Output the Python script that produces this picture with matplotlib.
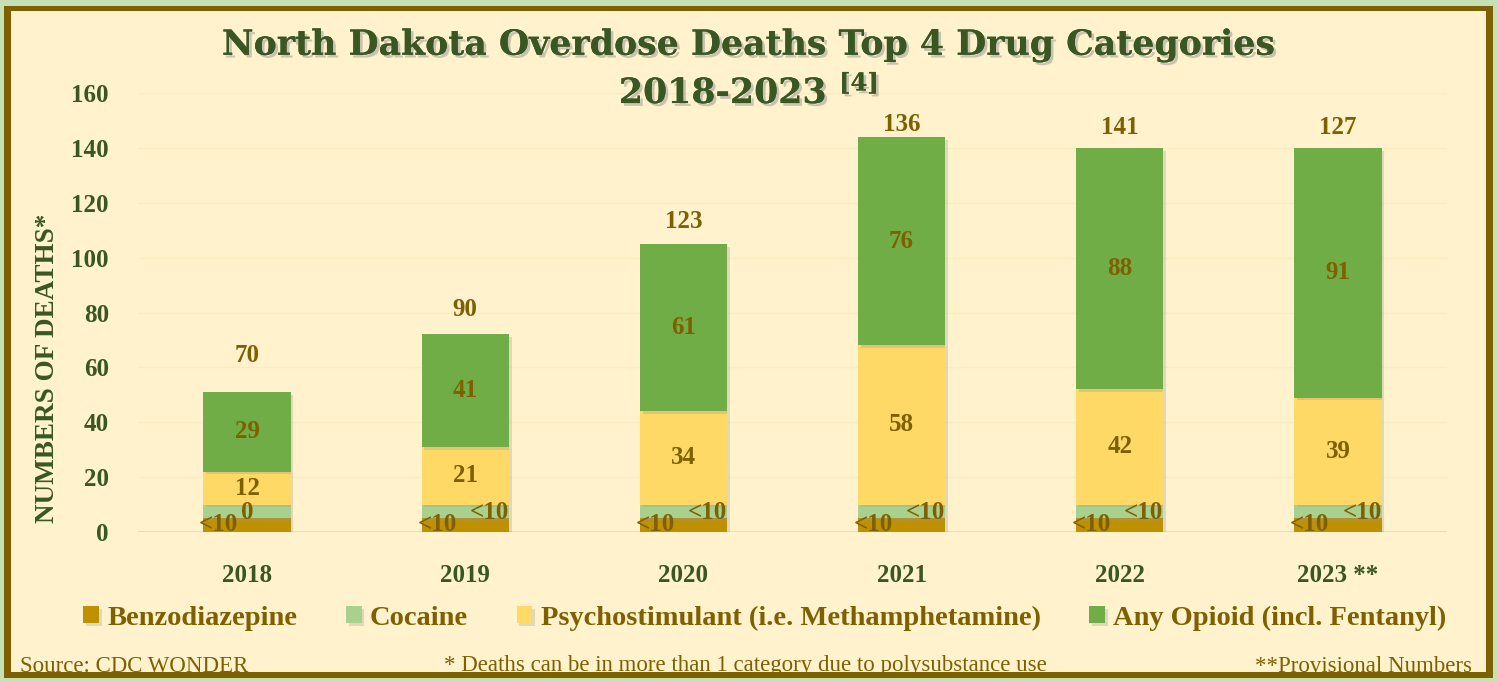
import matplotlib
matplotlib.use("Agg")
import matplotlib.pyplot as plt
import matplotlib.patheffects as pe
from matplotlib.patches import Rectangle
import numpy as np

years = ["2018", "2019", "2020", "2021", "2022", "2023 **"]
benzo = [5, 5, 5, 5, 5, 5]
cocaine = [5, 5, 5, 5, 5, 5]
psycho = [12, 21, 34, 58, 42, 39]
opioid = [29, 41, 61, 76, 88, 91]
benzo_labels = ["<10"] * 6
cocaine_labels = ["0", "<10", "<10", "<10", "<10", "<10"]
totals = [70, 90, 123, 136, 141, 127]
total_label_y = [64.5, 81, 113.3, 148.6, 147.6, 147.6]
cocaine_label_dx = [0.0, 0.11, 0.11, 0.11, 0.11, 0.11]

c_benzo = "#bf9000"
c_coc = "#a9d18e"
c_psy = "#ffd966"
c_op = "#70ad47"
c_brown = "#7f6000"
c_green = "#385723"
bg = "#fff2cc"

serif = ["Liberation Serif", "DejaVu Serif"]
plt.rcParams["font.family"] = serif
plt.rcParams["mathtext.fontset"] = "custom"
plt.rcParams["mathtext.rm"] = "DejaVu Serif:bold"
plt.rcParams["mathtext.it"] = "DejaVu Serif:bold"
plt.rcParams["mathtext.bf"] = "DejaVu Serif:bold"

fig = plt.figure(figsize=(14.97, 6.81), dpi=100)
fig.patch.set_facecolor("#c5e0b4")
# frame: brown border then cream inside
fig.patches.append(Rectangle((4 / 1497, 3 / 681), 1489 / 1497, 672 / 681,
                             transform=fig.transFigure, facecolor=c_brown,
                             edgecolor="none", zorder=-10))
fig.patches.append(Rectangle((11 / 1497, 9 / 681), 1475 / 1497, 661 / 681,
                             transform=fig.transFigure, facecolor=bg,
                             edgecolor="none", zorder=-9))

ax = fig.add_axes([138 / 1497, 149 / 681, 1309 / 1497, 439 / 681])
ax.set_facecolor("none")

x = np.arange(len(years))
w = 0.4
shadow = [pe.withSimplePatchShadow(offset=(2, -2), shadow_rgbFace="#999999", alpha=0.3)]

b0 = np.zeros(len(years))
b1 = b0 + benzo
b2 = b1 + cocaine
b3 = b2 + psycho
ax.bar(x, benzo, w, bottom=b0, color=c_benzo, label="Benzodiazepine", zorder=3, path_effects=shadow)
ax.bar(x, cocaine, w, bottom=b1, color=c_coc, label="Cocaine", zorder=3, path_effects=shadow)
ax.bar(x, psycho, w, bottom=b2, color=c_psy, label="Psychostimulant (i.e. Methamphetamine)", zorder=3, path_effects=shadow)
ax.bar(x, opioid, w, bottom=b3, color=c_op, label="Any Opioid (incl. Fentanyl)", zorder=3, path_effects=shadow)

lab = dict(color=c_brown, fontweight="bold", fontsize=18, ha="center", va="center", zorder=5)
for i in range(len(years)):
    ax.text(x[i], b3[i] + opioid[i] / 2, str(opioid[i]), **lab)
    ax.text(x[i], b2[i] + psycho[i] / 2, str(psycho[i]), **lab)
    ax.text(x[i] + cocaine_label_dx[i], b1[i] + 2.2, cocaine_labels[i], **lab)
    ax.text(x[i] - 0.13, 2.7, benzo_labels[i], **lab)
    ax.text(x[i], total_label_y[i], str(totals[i]), **lab)

ax.set_xlim(-0.5, len(years) - 0.5)
ax.set_ylim(0, 160)
ax.set_yticks(range(0, 161, 20))
ax.set_xticks(x)
ax.set_xticklabels(years)
ax.tick_params(axis="both", length=0, labelsize=18, labelcolor=c_green)
ax.tick_params(axis="y", pad=21)
ax.tick_params(axis="x", pad=23)
for t in ax.get_xticklabels() + ax.get_yticklabels():
    t.set_fontweight("bold")
ax.grid(axis="y", color="#fbebc0", linewidth=1, zorder=0)
ax.axhline(0, color="#d9d9d9", linewidth=1.2, zorder=2)
for s in ax.spines.values():
    s.set_visible(False)

fig.text(48 / 1497, 0.4596, "NUMBERS OF DEATHS*", rotation=90, ha="center", va="center",
         fontsize=19.5, fontweight="bold", color=c_green)

tshadow = [pe.withSimplePatchShadow(offset=(2, -2), shadow_rgbFace="#888888", alpha=0.45), pe.Normal()]
fig.text(0.5, 1 - 45 / 681, "North Dakota Overdose Deaths Top 4 Drug Categories",
         ha="center", va="center", fontsize=25, fontweight="bold", color=c_green,
         family=["DejaVu Serif"], path_effects=tshadow)
fig.text(0.5, 1 - 92 / 681, r"2018-2023 $^{[4]}$", ha="center", va="center",
         fontsize=25, fontweight="bold", color=c_green, family=["DejaVu Serif"],
         path_effects=tshadow)

fig.legend(loc="center", bbox_to_anchor=(0.511, 63 / 681), ncol=4, frameon=False,
           handlelength=0.55, handleheight=0.55, handletextpad=0.3, columnspacing=1.7,
           prop={"family": serif, "weight": "bold", "size": 20.5}, labelcolor=c_brown)

foot = dict(color=c_brown, fontsize=16.5, va="center")
fig.text(20 / 1497, 1 - 666 / 681, "Source: CDC WONDER", ha="left", **foot)
fig.text(745 / 1497, 1 - 666 / 681, "* Deaths can be in more than 1 category due to polysubstance use", ha="center", **foot)
fig.text(1472 / 1497, 1 - 666 / 681, "**Provisional Numbers", ha="right", **foot)

fig.savefig("out.png", dpi=100, facecolor=fig.get_facecolor())
